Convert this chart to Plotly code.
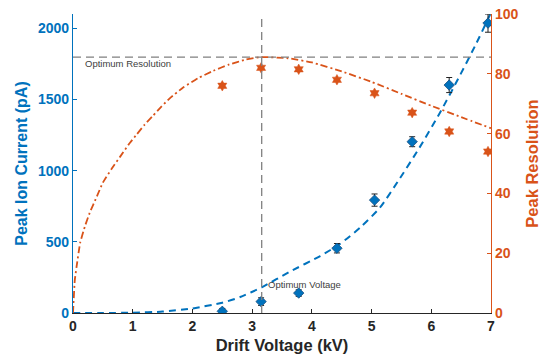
import plotly.graph_objects as go

# ---- data ----
voltage = [2.5, 3.15, 3.78, 4.42, 5.05, 5.68, 6.3, 6.95]
current = [12, 80, 140, 455, 793, 1203, 1601, 2036]
current_err = [20, 27, 23, 33, 43, 35, 53, 64]
resolution = [76, 82, 81.5, 78, 73.5, 67, 60.7, 54]

fit_cur_v = [0, 0.5, 1.0, 1.5, 2.0, 2.5, 2.8, 3.16, 3.63, 4.14, 4.47, 4.81, 5.14, 5.45, 5.8, 6.15, 6.45, 6.75, 7.0]
fit_cur = [0, 0, 2, 10, 32, 72, 112, 180, 290, 400, 485, 600, 740, 930, 1160, 1410, 1645, 1890, 2110]

fit_res_v = [0, 0.01, 0.03, 0.06, 0.12, 0.2, 0.28, 0.4, 0.5, 0.65, 0.79, 0.93, 1.07, 1.2, 1.34, 1.48, 1.62, 1.85, 2.09, 2.35, 2.6, 2.9, 3.15, 3.6, 4.0, 4.5, 5.0, 5.5, 6.0, 6.5, 7.0]
fit_res = [0, 4, 11, 15.5, 23.5, 29, 33.5, 39, 43.6, 48.3, 52.3, 56.3, 59.8, 63, 66, 69, 71.8, 75.5, 78.5, 81, 83, 84.8, 85.6, 85.2, 83.8, 80.8, 77.3, 73.3, 69.3, 65.5, 61.8]

opt_voltage = 3.16
opt_resolution = 85.6

x_ticks = [0, 1, 2, 3, 4, 5, 6, 7]
y_ticks = [0, 500, 1000, 1500, 2000]
y2_ticks = [0, 20, 40, 60, 80, 100]

BLUE = "#0072BD"
ORANGE = "#D95319"
GRAY = "#808080"
FONT = "Liberation Sans, Arial, sans-serif"

fig = go.Figure()

fig.add_trace(go.Scatter(x=fit_cur_v, y=fit_cur, mode="lines", line=dict(color=BLUE, width=2, dash="7px,5px", shape="spline", smoothing=0.6), yaxis="y", hoverinfo="skip"))
fig.add_trace(go.Scatter(x=fit_res_v, y=fit_res, mode="lines", line=dict(color=ORANGE, width=1.8, dash="7px,3px,2px,3px", shape="spline", smoothing=0.4), yaxis="y2", hoverinfo="skip"))

fig.add_trace(go.Scatter(x=voltage, y=current, mode="markers", yaxis="y",
                         marker=dict(symbol="diamond", size=8, color=BLUE, line=dict(color="#1a4f80", width=0.8)),
                         error_y=dict(type="data", array=current_err, color="#222222", thickness=1, width=3)))
fig.add_trace(go.Scatter(x=voltage, y=resolution, mode="markers", yaxis="y2",
                         marker=dict(symbol="hexagram", size=8, color=ORANGE, line=dict(color=ORANGE, width=0.5))))

# reference lines
fig.add_shape(type="line", xref="x", yref="y2", x0=0, x1=7, y0=opt_resolution, y1=opt_resolution,
              line=dict(color=GRAY, width=1.3, dash="8px,5px"))
fig.add_shape(type="line", xref="x", yref="paper", x0=opt_voltage, x1=opt_voltage, y0=0, y1=1,
              line=dict(color=GRAY, width=1.3, dash="8px,5px"))

fig.add_annotation(x=0.16, y=opt_resolution - 2.3, xref="x", yref="y2", text="Optimum Resolution",
                   showarrow=False, xanchor="left", yanchor="middle", font=dict(family=FONT, size=9.5, color="#404040"))
fig.add_annotation(x=3.24, y=9.4, xref="x", yref="y2", text="Optimum Voltage",
                   showarrow=False, xanchor="left", yanchor="middle", font=dict(family=FONT, size=9.5, color="#404040"))

fig.update_layout(
    width=547, height=359,
    margin=dict(l=73, r=56, t=14, b=46, autoexpand=False),
    paper_bgcolor="white", plot_bgcolor="white",
    showlegend=False,
    font=dict(family=FONT),
    xaxis=dict(range=[0, 7], tickvals=x_ticks, ticks="inside", ticklen=4, tickcolor="#262626",
               showline=True, linecolor="#262626", linewidth=1.3, showgrid=False, zeroline=False, automargin=False,
               tickfont=dict(family=FONT, size=14, color="#262626", weight="bold"),
               title=dict(text="Drift Voltage (kV)", font=dict(family=FONT, size=16.5, color="#262626", weight="bold"), standoff=6)),
    yaxis=dict(range=[0, 2100], tickvals=y_ticks, ticks="inside", ticklen=4, tickcolor=BLUE,
               showline=True, linecolor=BLUE, linewidth=1.3, showgrid=False, zeroline=False, automargin=False,
               tickfont=dict(family=FONT, size=14, color=BLUE, weight="bold"),
               title=dict(text="Peak Ion Current (pA)", font=dict(family=FONT, size=16, color=BLUE, weight="bold"), standoff=6)),
    yaxis2=dict(range=[0, 100], tickvals=y2_ticks, ticks="inside", ticklen=4, tickcolor=ORANGE,
                overlaying="y", side="right", anchor="x",
                showline=True, linecolor=ORANGE, linewidth=1.3, showgrid=False, zeroline=False, automargin=False,
                tickfont=dict(family=FONT, size=14, color=ORANGE, weight="bold"),
                title=dict(text="Peak Resolution", font=dict(family=FONT, size=16.5, color=ORANGE, weight="bold"), standoff=8)),
)

fig.write_html("out.html")
